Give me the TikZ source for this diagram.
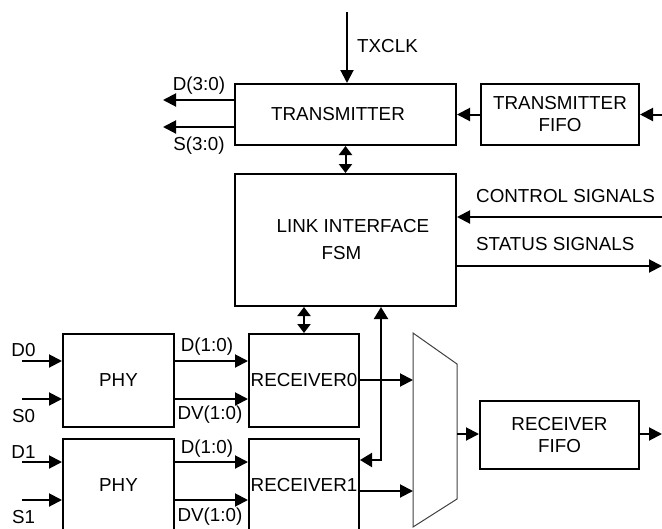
\documentclass[tikz,border=0pt]{standalone}
\usepackage{fontspec}
\setmainfont{Liberation Sans}
\usetikzlibrary{arrows.meta,positioning}

\begin{document}
\begin{tikzpicture}[x=1pt, y=-1pt, font=\fontsize{18.8}{22}\selectfont,
      blk/.style={rectangle, draw, line width=2pt, align=center, inner sep=0pt},
      lbl/.style={inner sep=0pt},
      sig/.style={line width=2pt, -{Triangle[length=13pt,width=13pt]}},
      bus/.style={line width=2pt, {Triangle[length=9pt,width=13pt]}-{Triangle[length=9pt,width=13pt]}},
      ret/.style={line width=2pt, {Triangle[length=12pt,width=14pt]}-{Triangle[length=12pt,width=14pt]}}]
  \useasboundingbox (0,0) rectangle (662,528);
  \clip (0,0) rectangle (662,528);

  % transmit side
  \node[blk, minimum width=221pt, minimum height=61pt] (tx) at (345.5,114.5) {TRANSMITTER\hspace*{15pt}};
  \node[blk, minimum width=158pt, minimum height=61pt] (txfifo) at (560,114.5) {TRANSMITTER\\FIFO};
  \node[blk, minimum width=221pt, minimum height=132pt] (fsm) at (345.5,240) {\hspace*{15pt}LINK INTERFACE\\[5pt]FSM\hspace*{8pt}};

  \coordinate (clk) at (347,12);
  \coordinate (dout) at (163,100);
  \coordinate (sout) at (163,127);
  \coordinate (txin) at (662,114.5);
  \coordinate (ctl) at (662,217);
  \coordinate (sts) at (662,266);

  \draw[sig] (clk) -- (clk |- tx.north);
  \node[lbl, anchor=west] (clklbl) at (357,46) {TXCLK};
  \draw[sig] (dout -| tx.west) -- (dout);
  \node[lbl] (doutlbl) at (199,86) {D(3:0)};
  \draw[sig] (sout -| tx.west) -- (sout);
  \node[lbl] (soutlbl) at (199,146) {S(3:0)};
  \draw[sig] (txfifo.west) -- (txfifo.west -| tx.east);
  \draw[sig] (txin) -- (txfifo.east);
  \draw[bus] (tx.south) -- (fsm.north);
  \draw[sig] (ctl) -- (ctl -| fsm.east);
  \node[lbl, anchor=west] (ctllbl) at (476,196) {CONTROL SIGNALS};
  \draw[sig] (sts -| fsm.east) -- (sts);
  \node[lbl, anchor=west] (stslbl) at (476,244.5) {STATUS SIGNALS};

  % receive side
  \node[blk, minimum width=111pt, minimum height=93pt] (phy0) at (118.5,380.5) {PHY};
  \node[blk, minimum width=110pt, minimum height=93pt] (rx0) at (304,380.5) {RECEIVER0};
  \node[blk, minimum width=111pt, minimum height=93pt] (phy1) at (118.5,485.5) {PHY};
  \node[blk, minimum width=110pt, minimum height=93pt] (rx1) at (304,485.5) {RECEIVER1};
  \node[blk, minimum width=159pt, minimum height=68pt] (rxfifo) at (559.5,435) {RECEIVER\\FIFO};

  \coordinate (d0) at (22,361);
  \coordinate (s0) at (22,399);
  \coordinate (d1) at (22,462);
  \coordinate (s1) at (22,500);
  \coordinate (mux0) at (413,380);
  \coordinate (mux1) at (413,491);
  \coordinate (muxout) at (457,434);
  \coordinate (fb) at (381,460);
  \coordinate (rxout) at (662,434);

  \draw[line width=1pt, black!75] (413,333) -- (457,364) -- (457,499) -- (413,527) -- cycle;

  \draw[sig] (d0) -- (d0 -| phy0.west);
  \node[lbl] (d0lbl) at (23.5,350) {D0};
  \draw[sig] (s0) -- (s0 -| phy0.west);
  \node[lbl] (s0lbl) at (23.5,416) {S0};
  \draw[sig] (d1) -- (d1 -| phy1.west);
  \node[lbl] (d1lbl) at (23.5,452) {D1};
  \draw[sig] (s1) -- (s1 -| phy1.west);
  \node[lbl] (s1lbl) at (23.5,517) {S1};

  \draw[sig] (d0 -| phy0.east) -- (d0 -| rx0.west);
  \node[lbl] (dat0lbl) at (207,347) {D(1:0)};
  \draw[sig] (s0 -| phy0.east) -- (s0 -| rx0.west);
  \node[lbl] (dv0lbl) at (210,415) {DV(1:0)};
  \draw[sig] (d1 -| phy1.east) -- (d1 -| rx1.west);
  \node[lbl] (dat1lbl) at (207,449) {D(1:0)};
  \draw[sig] (s1 -| phy1.east) -- (s1 -| rx1.west);
  \node[lbl] (dv1lbl) at (210,517) {DV(1:0)};

  \draw[bus] (fsm.south -| rx0.north) -- (rx0.north);
  \draw[ret] (fb -| rx1.east) -- (fb) -- (fb |- fsm.south);
  \draw[sig] (mux0 -| rx0.east) -- (mux0);
  \draw[sig] (mux1 -| rx1.east) -- (mux1);
  \draw[sig] (muxout) -- (muxout -| rxfifo.west);
  \draw[sig] (muxout -| rxfifo.east) -- (rxout);
\end{tikzpicture}
\end{document}
